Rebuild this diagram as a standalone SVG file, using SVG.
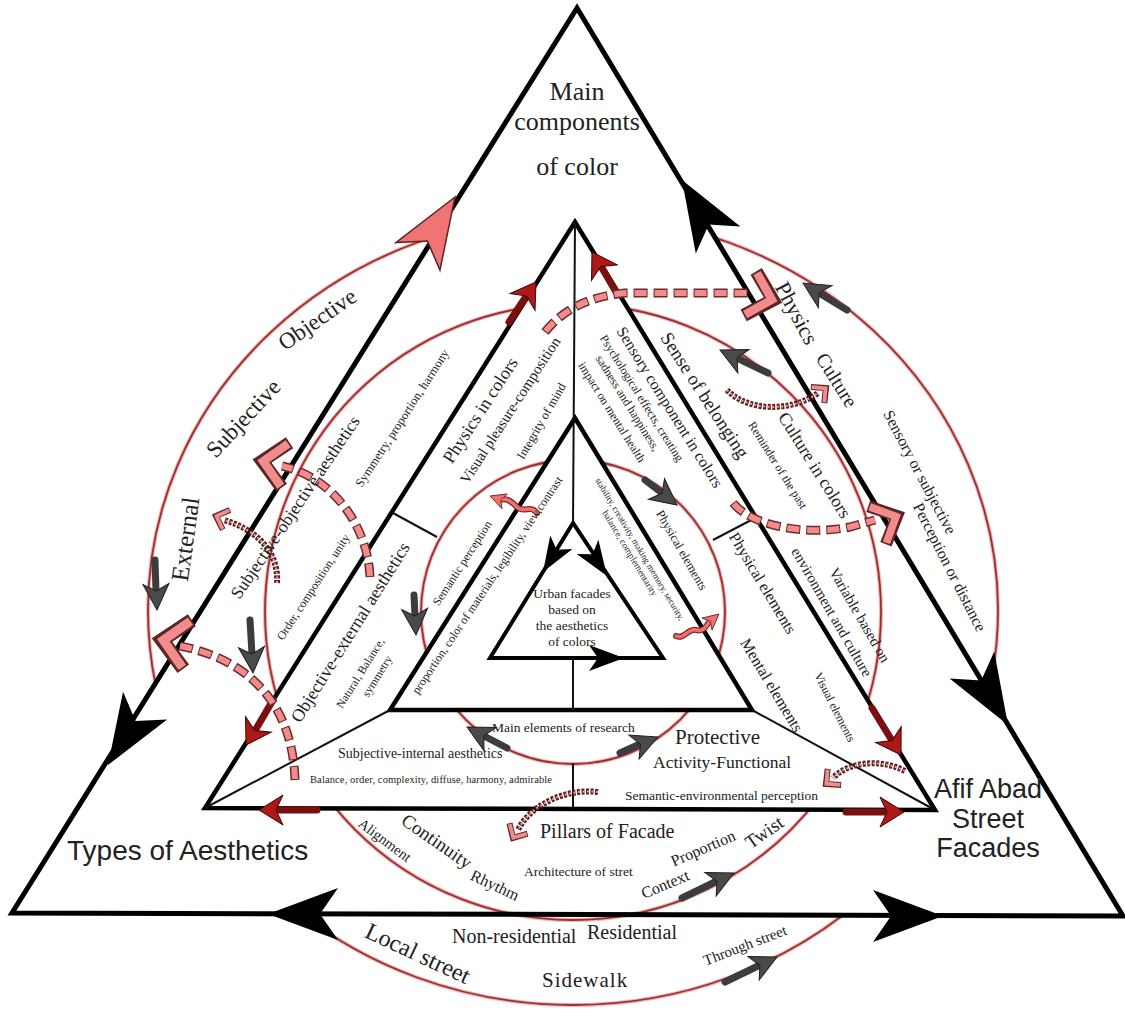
<svg xmlns="http://www.w3.org/2000/svg" width="1125" height="1010" viewBox="0 0 1125 1010">
<style>
text{font-family:"Liberation Serif","Times New Roman",serif;fill:#222}
.sans{font-family:"Liberation Sans",Arial,sans-serif}
.c{text-anchor:middle}
.tri{fill:none;stroke:#000;stroke-linejoin:miter}
.thin{stroke:#111;stroke-width:2;fill:none}
.ringH{fill:none;stroke:#f0b4b4;stroke-width:4}
.ring{fill:none;stroke:#9b3030;stroke-width:1.8}
.gsh{stroke:#3c3c3c;stroke-width:7;stroke-linecap:round;fill:none}
.gh{fill:#4a4a4a;stroke:#1e1e1e;stroke-width:1}
.rsh{stroke:#7a0f0f;stroke-width:7;stroke-linecap:round;fill:none}
.rh{fill:#b01818;stroke:#3a0505;stroke-width:1}
.dashO{fill:none;stroke:#6b2a2a;stroke-width:9;stroke-dasharray:14 6}
.dashI{fill:none;stroke:#f28b8b;stroke-width:6;stroke-dasharray:12 8;stroke-dashoffset:-1}
.chainO{fill:none;stroke:#5e1c1c;stroke-width:6;stroke-dasharray:3 1.5}
.chainI{fill:none;stroke:#e6a0a0;stroke-width:2;stroke-dasharray:2 2.5}
.chevO{fill:none;stroke:#5c2626;stroke-width:11;stroke-linejoin:miter}
.chevI{fill:none;stroke:#f28b8b;stroke-width:7;stroke-linejoin:miter}
.sqO{fill:none;stroke:#7a2a2a;stroke-width:6;stroke-linecap:round}
.sqI{fill:none;stroke:#f07070;stroke-width:3.5;stroke-linecap:round}
</style>
<defs>
<path id="ah" d="M0,0 L-70,-26 L-52,0 L-70,26 Z"/>
<path id="gh" d="M0,0 L-26,-13 L-19,0 L-26,13 Z"/>
<path id="rh" d="M0,0 L-24,-15 L-17,0 L-24,15 Z"/>
<g id="chev"><path class="chevO" d="M-20,-19 L0,0 L-20,19"/><path class="chevI" d="M-19,-18 L-1,0 L-19,18"/></g>
<clipPath id="out1"><path clip-rule="evenodd" d="M0,0H1125V1010H0Z M577,8L12,913L1123,916Z"/></clipPath>
<clipPath id="out2"><path clip-rule="evenodd" d="M0,0H1125V1010H0Z M575,222L205,808L935,810Z"/></clipPath>
<clipPath id="out3"><path clip-rule="evenodd" d="M0,0H1125V1010H0Z M575,418L390,710L752,710Z"/></clipPath>
</defs>
<rect width="1125" height="1010" fill="#fff"/>

<g id="rings">
<g clip-path="url(#out1)"><ellipse class="ringH" cx="573" cy="610" rx="425" ry="395"/><ellipse class="ring" cx="573" cy="610" rx="425" ry="395"/></g>
<g clip-path="url(#out2)"><circle class="ringH" cx="573" cy="612" r="308"/><circle class="ring" cx="573" cy="612" r="308"/></g>
<g clip-path="url(#out3)"><circle class="ringH" cx="573" cy="612" r="152"/><circle class="ring" cx="573" cy="612" r="152"/></g>
</g>

<g id="frame">
<path class="tri" stroke-width="5" d="M577,8 L12,913 L1123,916 Z"/>
<path class="tri" stroke-width="4.5" d="M575,222 L205,808 L935,810 Z"/>
<path class="tri" stroke-width="4.5" d="M575,418 L390,710 L752,710 Z"/>
<path class="tri" stroke-width="4" d="M573,523 L490,658 L663,658 Z"/>
<path class="thin" d="M390,710 L205,808 M752,710 L935,810 M393,513 L437,537 M713,540 L757,517"/>
<path class="thin" stroke-width="3" d="M575,222 L573,523"/>
<path class="thin" stroke-width="4" d="M573,658 L573,710"/>
<path class="thin" stroke-width="2.5" d="M573,763 L573,810"/>
</g>

<g id="connectors">
<use href="#ah" transform="translate(455,197) rotate(-58)" fill="#f07474" stroke="#5c2626" stroke-width="1.5"/>
<use href="#ah" transform="translate(682,180) rotate(-121)"/>
<use href="#ah" transform="translate(1008,725) rotate(59)"/>
<use href="#ah" transform="translate(108,765) rotate(122)"/>
<use href="#ah" transform="translate(268,914) rotate(180)"/>
<use href="#ah" transform="translate(943,916)"/>
<use href="#ah" transform="translate(543,572) rotate(121.6) scale(0.5)"/>
<use href="#ah" transform="translate(607,576) rotate(56.3) scale(0.5)"/>
<use href="#ah" transform="translate(624,658) scale(0.5)"/>

<path class="gsh" d="M847,310 L819,293 M768,373 L737,358 M645,480 L662,493 M414,595 L415,616 M250,620 L252,654 M155,560 L156,591 M507,748 L484,736 M620,753 L640,744 M682,898 L717,881 M725,982 L760,965"/>
<use href="#gh" class="gh" transform="translate(803,283) rotate(-148.5)"/>
<use href="#gh" class="gh" transform="translate(720,350) rotate(-154.4)"/>
<use href="#gh" class="gh" transform="translate(677,505) rotate(38)"/>
<use href="#gh" class="gh" transform="translate(416,635) rotate(87)"/>
<use href="#gh" class="gh" transform="translate(253,673) rotate(86.8)"/>
<use href="#gh" class="gh" transform="translate(157,610) rotate(87.7)"/>
<use href="#gh" class="gh" transform="translate(467,727) rotate(-152.3)"/>
<use href="#gh" class="gh" transform="translate(658,737) rotate(-22.8)"/>
<use href="#gh" class="gh" transform="translate(734,873) rotate(-25.7)"/>
<use href="#gh" class="gh" transform="translate(777,957) rotate(-25.7)"/>

<path class="rsh" d="M509,322 L525,298 M616,292 L602,268 M273,700 L256,729 M872,708 L891,739 M317,810 L278,810 M846,812 L885,812"/>
<use href="#rh" class="rh" transform="translate(536,282) rotate(-56)"/>
<use href="#rh" class="rh" transform="translate(592,252) rotate(-121)"/>
<use href="#rh" class="rh" transform="translate(246,745) rotate(121)"/>
<use href="#rh" class="rh" transform="translate(901,755) rotate(58.3)"/>
<use href="#rh" class="rh" transform="translate(259,810) rotate(180)"/>
<use href="#rh" class="rh" transform="translate(904,812)"/>

<path class="dashO" d="M545,332 Q572,298 625,293 L748,293"/>
<path class="dashI" d="M545,332 Q572,298 625,293 L748,293"/>
<path class="dashO" d="M733,503 C752,526 805,536 850,527 L875,520"/>
<path class="dashI" d="M733,503 C752,526 805,536 850,527 L875,520"/>
<path class="dashO" d="M370,577 C368,528 335,478 282,466"/>
<path class="dashI" d="M370,577 C368,528 335,478 282,466"/>
<path class="dashO" d="M295,780 C293,715 260,662 180,646"/>
<path class="dashI" d="M295,780 C293,715 260,662 180,646"/>
<use href="#chev" transform="translate(773,300) rotate(16) scale(1.2)"/>
<use href="#chev" transform="translate(897,516) rotate(-25) scale(1.1)"/>
<use href="#chev" transform="translate(262,461) rotate(190) scale(1.2)"/>
<use href="#chev" transform="translate(162,640) rotate(190) scale(1.3)"/>

<path class="chainO" d="M277,583 C279,553 258,530 224,520 M727,390 C748,412 792,412 818,393 M905,771 C880,758 848,762 833,778 M598,792 C566,788 530,805 518,830"/>
<path class="chainI" d="M277,583 C279,553 258,530 224,520 M727,390 C748,412 792,412 818,393 M905,771 C880,758 848,762 833,778 M598,792 C566,788 530,805 518,830"/>
<use href="#chev" transform="translate(216,516) rotate(200) scale(0.55)"/>
<use href="#chev" transform="translate(826,388) rotate(-40) scale(0.55)"/>
<use href="#chev" transform="translate(826,784) rotate(140) scale(0.55)"/>
<use href="#chev" transform="translate(513,838) rotate(120) scale(0.55)"/>

<path class="sqO" d="M537,513 C530,504 524,514 517,507 S506,498 500,500"/>
<path class="sqI" d="M537,513 C530,504 524,514 517,507 S506,498 500,500"/>
<use href="#gh" transform="translate(490,496) rotate(-160) scale(0.6)" fill="#f07070" stroke="#7a2a2a" stroke-width="1.5"/>
<path class="sqO" d="M676,636 C684,640 688,628 696,630 S706,626 710,621"/>
<path class="sqI" d="M676,636 C684,640 688,628 696,630 S706,626 710,621"/>
<use href="#gh" transform="translate(719,614) rotate(-40) scale(0.6)" fill="#f07070" stroke="#7a2a2a" stroke-width="1.5"/>
</g>

<g id="n-main-components">
<text class="c" x="577" y="100" font-size="26">Main</text>
<text class="c" x="577" y="130" font-size="26">components</text>
<text class="c" x="577" y="175" font-size="26">of color</text>
</g>
<g id="n-outer-left">
<text class="c" font-size="23" dy="0.35em" transform="translate(317,319) rotate(-35)">Objective</text>
<text class="c" font-size="23" dy="0.35em" transform="translate(243,418) rotate(-47)">Subjective</text>
<text class="c" font-size="25" dy="0.35em" transform="translate(185,539) rotate(-82)">External</text>
</g>
<g id="n-left-ring">
<text class="c" font-size="12.5" dy="0.35em" transform="translate(402,418) rotate(-57)">Symmetry, proportion, harmony</text>
<text class="c" font-size="17.5" dy="0.35em" transform="translate(295,507) rotate(-56)">Subjective-objective aesthetics</text>
<text class="c" font-size="12" dy="0.35em" transform="translate(313,587) rotate(-57)">Order, composition, unity</text>
</g>
<g id="n-left-inner">
<text class="c" font-size="18" dy="0.35em" transform="translate(480,410) rotate(-57)">Physics in colors</text>
<text class="c" font-size="15" dy="0.35em" transform="translate(510,410) rotate(-57)">Visual pleasure-composition</text>
<text class="c" font-size="12.5" dy="0.35em" transform="translate(541,421) rotate(-60)">Integrity of mind</text>
<text class="c" font-size="18" dy="0.35em" transform="translate(350,632) rotate(-58)">Objective-external aesthetics</text>
<text class="c" font-size="11.5" dy="0.35em" transform="translate(360,673) rotate(-58)">Natural, Balance,</text>
<text class="c" font-size="11.5" dy="0.35em" transform="translate(377,676) rotate(-58)">symmetry</text>
<text class="c" font-size="12" dy="0.35em" transform="translate(462,563) rotate(-57)">Semantic perception</text>
<text class="c" font-size="12" dy="0.35em" transform="translate(487,585) rotate(-56)">proportion, color of materials, legibility, view,contrast</text>
</g>
<g id="n-core">
<text class="c" x="572" y="598" font-size="13.5">Urban facades</text>
<text class="c" x="572" y="614" font-size="13.5">based on</text>
<text class="c" x="572" y="630" font-size="13.5">the aesthetics</text>
<text class="c" x="572" y="646" font-size="13.5">of colors</text>
</g>
<g id="n-right-inner">
<text class="c" font-size="9" dy="0.35em" transform="translate(640,549) rotate(59)">stability, creativity, making memory, security,</text>
<text class="c" font-size="9.5" dy="0.35em" transform="translate(630,553) rotate(59)">balance, complementarity</text>
<text class="c" font-size="12.5" dy="0.35em" transform="translate(682,550) rotate(60)">Physical elements</text>
<text class="c" font-size="16" dy="0.35em" transform="translate(670,407) rotate(58)">Sensory component in colors</text>
<text class="c" font-size="12" dy="0.35em" transform="translate(642,398) rotate(58)">Psychological effects, creating</text>
<text class="c" font-size="12" dy="0.35em" transform="translate(628,403) rotate(58)">sadness and happiness,</text>
<text class="c" font-size="12" dy="0.35em" transform="translate(612,412) rotate(58)">impact on mental health</text>
</g>
<g id="n-right-ring">
<text class="c" font-size="19" dy="0.35em" transform="translate(705,395) rotate(57)">Sense of belonging</text>
<text class="c" font-size="12" dy="0.35em" transform="translate(778,465) rotate(58)">Reminder of the past</text>
<text class="c" font-size="18" dy="0.35em" transform="translate(815,465) rotate(58)">Culture in colors</text>
<text class="c" font-size="15" dy="0.35em" transform="translate(860,615) rotate(60)">Variable based on</text>
<text class="c" font-size="15" dy="0.35em" transform="translate(832,612) rotate(60)">environment and culture</text>
<text class="c" font-size="16" dy="0.35em" transform="translate(763,583) rotate(59)">Physical elements</text>
<text class="c" font-size="16" dy="0.35em" transform="translate(772,685) rotate(59)">Mental elements</text>
<text class="c" font-size="12" dy="0.35em" transform="translate(835,707) rotate(63)">Visual elements</text>
</g>
<g id="n-outer-right">
<text class="c" font-size="22" dy="0.35em" transform="translate(797,313) rotate(62)">Physics</text>
<text class="c" font-size="20" dy="0.35em" transform="translate(837,380) rotate(58)">Culture</text>
<text class="c" font-size="16" dy="0.35em" transform="translate(920,472) rotate(62)">Sensory or subjective</text>
<text class="c" font-size="16" dy="0.35em" transform="translate(950,567) rotate(63)">Perception or distance</text>
</g>
<g id="n-afif">
<text class="c sans" x="988" y="798" font-size="27">Afif Abad</text>
<text class="c sans" x="988" y="828" font-size="27">Street</text>
<text class="c sans" x="988" y="857" font-size="27">Facades</text>
</g>
<g id="n-bottom-inner">
<text x="492" y="732" font-size="13.5">Main elements of research</text>
<text x="675" y="744" font-size="21">Protective</text>
<text x="653" y="768" font-size="17.5">Activity-Functional</text>
<text x="625" y="800" font-size="13.5">Semantic-environmental perception</text>
<text x="338" y="758" font-size="14">Subjective-internal aesthetics</text>
<text x="310" y="783" font-size="10.5" textLength="242">Balance, order, complexity, diffuse, harmony, admirable</text>
</g>
<g id="n-pillars">
<text x="540" y="838" font-size="20">Pillars of Facade</text>
<text class="c" font-size="14.5" dy="0.35em" transform="translate(385,840) rotate(37)">Alignment</text>
<text class="c" font-size="19" dy="0.35em" transform="translate(437,841) rotate(35)">Continuity</text>
<text class="c" font-size="16" dy="0.35em" transform="translate(495,885) rotate(25)">Rhythm</text>
<text x="524" y="876" font-size="13.5">Architecture of stret</text>
<text class="c" font-size="16" dy="0.35em" transform="translate(703,848) rotate(-23.5)">Proportion</text>
<text class="c" font-size="19" dy="0.35em" transform="translate(764,832) rotate(-35)">Twist</text>
<text class="c" font-size="16" dy="0.35em" transform="translate(665,884) rotate(-23)">Context</text>
</g>
<g id="n-types">
<text class="sans" x="67" y="860" font-size="28">Types of Aesthetics</text>
</g>
<g id="n-street">
<text class="c" font-size="24" dy="0.35em" transform="translate(418,953) rotate(25)">Local street</text>
<text x="452" y="943" font-size="20">Non-residential</text>
<text x="587" y="939" font-size="20">Residential</text>
<text x="542" y="987" font-size="21" letter-spacing="1">Sidewalk</text>
<text class="c" font-size="15" dy="0.35em" transform="translate(745,945) rotate(-21)">Through street</text>
</g>
</svg>
